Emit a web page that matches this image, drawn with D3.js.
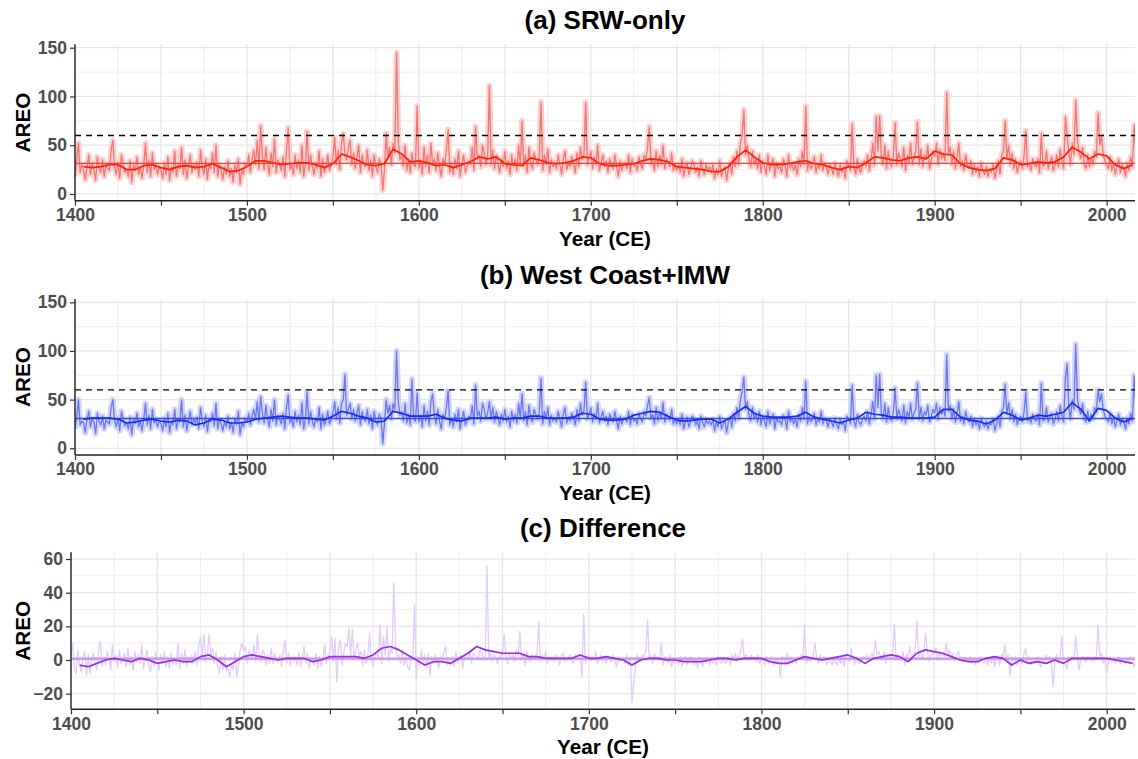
<!DOCTYPE html>
<html>
<head>
<meta charset="utf-8">
<script src="https://cdn.jsdelivr.net/npm/d3@7/dist/d3.min.js"></script>
<style>
  body { margin: 0; background: #fff; }
  text { font-family: "Liberation Sans", Arial, sans-serif; font-weight: bold; }
</style>
</head>
<body>
<div id="chart"></div>
<script>
// annual series start in 1400, smoothed series every 5 years from 1405
var firstYear = 1400;
var smoothFirst = 1405, smoothStep = 5;

var panelTitles = ["(a) SRW-only", "(b) West Coast+IMW", "(c) Difference"];
var xTickYears = [1400, 1450, 1500, 1550, 1600, 1650, 1700, 1750, 1800, 1850, 1900, 1950, 2000];
var areoTicks = [0, 50, 100, 150];
var diffTicks = [-20, 0, 20, 40, 60];
var thresholdLine = 60;
var meanLines = [31.3, 30.6, 0.8];

var srwAnnual = [
  18,35,52,22,30,24,15,28,40,20, 32,25,14,38,27,22,35,18,30,26,
  24,45,55,28,20,33,16,40,30,22, 26,18,34,12,30,24,38,20,28,16,
  30,52,22,35,18,42,25,30,20,28, 24,16,32,20,38,14,28,22,44,18,
  30,26,48,20,35,16,28,40,22,30, 25,33,18,45,28,20,36,15,30,26,
  42,22,50,18,30,24,15,28,20,34, 18,26,12,30,22,36,10,25,20,32,
  28,40,22,35,45,30,55,26,70,38, 25,48,30,20,42,28,56,22,35,30,
  24,38,18,44,68,25,30,20,40,26, 35,22,50,18,30,64,24,40,28,20,
  32,26,44,18,36,22,28,40,24,30, 38,58,30,45,25,52,62,40,35,48,
  55,30,42,26,38,50,22,40,30,28, 45,24,35,18,40,28,22,36,30,4,
  25,62,38,48,30,52,42,145,55,35, 40,28,50,24,36,22,42,30,28,90,
  26,35,20,48,28,40,22,52,30,36, 24,42,28,18,36,30,45,66,22,32,
  20,36,26,44,18,30,40,22,28,34, 30,48,24,69,35,40,28,50,42,30,
  38,111,30,45,26,40,32,22,36,28, 44,26,34,20,40,28,36,24,50,30,
  75,28,40,22,48,32,26,42,36,30, 38,94,24,40,30,46,22,35,28,32,
  26,40,30,20,36,44,25,32,28,38, 30,22,42,28,48,35,40,94,30,36,
  44,26,38,30,50,24,32,40,28,34, 22,36,30,26,40,28,18,34,24,30,
  32,26,40,22,36,28,30,24,38,30, 26,40,34,48,69,30,36,24,44,28,
  40,30,50,26,36,32,28,42,24,30, 24,30,22,36,18,28,32,20,26,34,
  30,22,28,18,34,26,20,30,24,28, 22,30,16,26,20,34,18,24,28,14,
  26,32,20,38,28,44,30,52,60,86, 40,50,35,28,44,30,36,26,40,22,
  34,28,20,40,24,30,36,18,32,26, 28,22,36,30,18,40,26,32,24,30,
  20,36,28,44,30,90,24,34,26,30, 38,22,30,26,40,24,32,28,20,30,
  26,20,32,24,18,30,22,28,16,34, 30,24,72,28,20,36,26,22,30,34,
  28,40,24,36,52,30,80,44,80,38, 30,50,26,44,32,28,40,73,30,42,
  36,28,48,24,40,32,52,30,38,44, 74,30,46,28,40,36,50,26,34,44,
  38,52,30,46,36,42,34,104,40,48, 30,44,26,38,52,28,34,24,40,30,
  26,34,20,30,22,28,18,32,24,20, 28,18,26,22,30,16,24,34,20,40,
  44,75,36,50,30,42,26,36,22,30, 34,26,40,65,28,32,24,36,30,28,
  36,22,62,28,30,44,26,32,38,24, 30,40,28,46,34,26,79,60,44,30,
  52,40,96,55,42,36,48,30,26,40, 28,36,30,44,38,83,50,60,40,34,
  30,26,38,24,32,20,28,36,22,30, 26,18,32,24,38,28,71,40
];

var srwSmooth = [
  28,27,28,30,30,25,25,29,30,27,25,28,29,27,28,31,27,23,24,28,
  34,34,32,30,31,32,32,30,27,31,41,38,34,30,29,31,46,41,33,34,
  32,29,30,27,30,33,38,36,38,31,30,29,37,35,32,31,32,34,38,37,
  31,29,29,30,31,34,36,35,33,28,27,26,25,23,23,28,38,45,38,32,
  30,30,31,33,34,31,30,27,25,28,27,32,38,37,35,34,37,38,36,44,
  41,40,31,27,25,24,26,37,35,30,31,33,32,33,38,48,43,36,41,39,
  30,26,30
];

var wciAnnual = [
  20,32,50,24,28,26,16,30,38,22, 30,27,15,36,28,24,33,20,29,27,
  25,42,50,29,22,31,18,38,30,23, 27,20,32,14,30,25,36,22,28,18,
  30,46,24,34,20,40,26,30,22,28, 25,18,31,22,36,16,28,24,40,20,
  29,27,50,22,34,18,28,38,24,30, 26,32,20,42,28,22,34,17,30,27,
  36,23,46,20,30,25,18,28,22,33, 20,27,16,31,24,38,14,27,22,31,
  27,36,24,33,40,30,48,27,53,36, 26,44,30,22,40,28,50,24,34,30,
  25,36,20,42,55,26,30,22,38,27, 34,24,47,20,30,58,25,38,28,22,
  31,27,42,20,35,24,28,38,25,30, 36,48,30,42,26,46,50,76,34,40,
  46,30,40,28,36,44,24,38,30,28, 40,25,34,20,38,28,24,35,30,5,
  26,50,36,44,30,46,40,100,48,34, 38,28,46,26,35,24,71,30,28,57,
  27,34,22,44,28,38,24,48,56,34, 25,40,28,20,35,30,42,59,24,31,
  22,35,27,40,20,30,38,24,28,33, 30,44,25,65,33,38,28,46,40,30,
  36,48,30,42,27,38,31,24,35,28, 40,27,33,22,38,28,35,26,46,30,
  56,28,38,24,44,32,27,40,35,30, 36,72,25,38,30,42,24,34,28,31,
  27,38,30,22,35,42,26,32,28,36, 30,24,40,28,46,34,38,68,30,35,
  42,27,36,30,46,26,32,38,28,33, 24,35,30,27,38,28,20,33,25,30,
  31,27,38,24,35,28,30,25,36,30, 27,38,33,44,52,30,35,25,42,28,
  38,30,47,27,35,32,29,40,25,30, 25,30,24,35,20,28,32,22,27,33,
  30,24,28,20,33,27,22,30,25,28, 24,30,18,27,22,33,20,25,28,16,
  27,32,22,36,28,42,30,50,58,73, 40,48,34,28,42,30,36,27,38,24,
  33,28,22,38,25,30,35,20,31,27, 28,24,34,30,20,38,27,31,25,30,
  22,35,28,42,30,69,25,33,27,30, 36,24,30,27,38,25,31,28,22,30,
  27,22,31,25,20,30,24,28,18,33, 30,25,65,28,22,35,27,24,30,33,
  28,38,25,35,48,30,75,42,76,36, 30,46,27,42,31,28,38,62,30,40,
  34,28,44,26,38,31,46,30,36,40, 67,30,42,28,38,34,44,27,33,40,
  36,46,30,42,35,40,33,96,38,44, 30,41,27,36,48,28,33,25,38,30,
  27,33,22,30,24,28,20,31,25,22, 28,20,26,24,30,18,25,33,22,38,
  42,66,35,47,30,40,27,35,24,30, 33,27,38,58,28,31,26,35,30,28,
  35,24,67,28,30,42,27,32,36,25, 30,38,28,44,33,27,72,87,42,30,
  50,40,107,52,40,35,46,30,27,38, 28,35,30,42,37,60,48,56,40,33,
  30,27,36,25,31,22,28,35,24,30, 27,20,31,25,36,28,75,40
];

var wciSmooth = [
  30,31,31,31,30,26,27,29,30,28,27,29,28,24,26,30,29,26,26,27,
  30,31,32,33,32,31,31,30,29,33,38,36,33,31,27,28,38,36,33,33,
  33,35,31,29,28,31,31,31,32,30,31,31,33,33,31,31,31,32,36,35,
  30,29,29,30,34,36,38,37,33,29,28,29,30,30,26,30,37,43,36,33,
  32,32,32,33,37,32,30,28,26,29,31,37,35,34,32,32,31,31,31,32,
  40,40,32,29,28,25,29,37,34,29,31,34,33,35,37,47,40,28,41,39,
  31,27,31
];

var diffAnnual = [
  4,10,-5,-8,6,-3,-7,2,5,-9, 3,-8,1,4,-2,-6,7,11,-4,2,
  -3,5,2,-6,9,-1,3,-5,6,-2, 0,4,-4,7,-3,2,-6,5,-1,3,
  -2,9,-5,1,6,-3,-7,2,-4,5, -1,-6,3,-2,5,-4,2,-5,4,-3,
  1,-3,10,-5,4,-2,6,-4,2,-1, 3,-2,5,-3,8,14,2,15,-1,4,
  15,3,7,-2,5,-4,-8,2,-6,3, -7,-5,-10,-2,-6,4,-10,-3,6,10,
  5,8,-2,6,3,1,9,-1,15,2, -1,6,4,-3,3,-2,7,-2,4,0,
  -1,3,-4,5,12,-2,4,-3,2,-1, 2,-3,5,-4,1,8,-2,4,-5,1,
  0,-3,4,-5,2,-4,1,9,-2,3, 5,14,-1,13,-13,7,12,-3,4,10,
  8,19,3,18,1,7,10,2,5,-3, 6,-2,3,16,1,-4,2,4,1,21,
  -2,14,3,20,-1,7,4,46,9,2, 3,-2,6,-3,2,-4,-6,1,0,33,
  -12,2,-3,6,-1,3,-5,4,-9,2, -2,3,-1,-5,2,0,4,8,-3,1,
  -3,2,-4,5,-2,1,3,-5,2,1, 1,5,-2,4,3,2,1,6,4,1,
  3,56,1,4,-1,3,2,-2,2,1, 5,15,2,-2,4,1,3,-1,6,2,
  17,1,3,-3,5,2,-1,3,2,1, 4,23,-1,3,1,5,-2,2,0,2,
  -1,3,2,-3,2,4,-1,1,0,3, 0,-2,3,1,3,2,-10,27,-2,2,
  3,-1,2,0,5,-2,1,3,-1,2, -2,2,1,-1,3,0,-4,2,-1,1,
  1,-2,3,-3,2,-25,-13,-4,3,1, -1,3,2,5,24,1,3,-2,4,1,
  2,0,10,-3,2,1,-2,3,-4,1, -2,1,-3,2,-4,1,2,-3,1,2,
  0,-3,1,-5,2,-1,-4,1,-2,1, -3,1,-2,0,-3,2,-1,-2,1,-2,
  -1,2,-3,3,1,4,-1,3,5,13, 1,3,2,0,3,1,2,-1,3,-2,
  1,-1,-3,2,-2,1,2,-3,1,-2, 0,-10,2,1,-3,4,-1,2,-2,1,
  -2,2,1,3,1,21,-2,2,-1,1, 3,10,1,-2,3,-1,2,1,-3,1,
  -1,-3,2,-2,-3,1,-2,1,-4,2, 1,-1,7,1,-3,2,-1,-2,1,2,
  1,3,-1,2,4,1,12,3,5,2, 1,5,-2,3,2,1,3,21,1,3,
  2,1,5,-3,3,2,8,1,3,5, 23,2,6,1,4,16,7,-1,2,5,
  3,7,1,5,2,4,2,10,3,6, 1,4,-1,3,5,1,2,-1,2,1,
  -1,2,-2,1,-3,1,-2,2,-1,-2, 1,-3,1,-2,2,-4,1,2,-3,3,
  2,9,1,3,-9,2,-1,2,-3,1, -1,-2,3,7,-1,2,-3,1,-2,1,
  2,-3,-4,1,-2,3,-1,2,-4,-16, 1,3,-2,2,14,-1,-3,-5,2,1,
  2,0,14,3,-6,1,2,0,-1,2, 0,1,-1,2,1,21,2,4,-2,1,
  -8,-1,2,-1,1,-2,0,1,-2,0, -1,-2,1,-1,2,0,-4,0
];

var diffSmooth = [
  -3,-4,-2,0,1,0,-1,1,0,-2,-1,0,-1,-1,2,3,0,-4,-1,2,
  3,2,1,0,1,1,1,-1,0,2,2,2,2,1,3,7,8,6,3,0,
  -3,-1,-1,-2,1,4,8,6,5,4,4,4,2,2,1,1,1,1,3,1,
  1,2,1,0,-3,0,1,1,0,0,-1,-1,-1,0,1,1,0,1,1,1,
  -1,-2,-2,0,2,1,0,1,2,3,1,-2,1,2,3,2,-1,4,6,5,
  4,2,0,-1,-1,1,2,1,-3,0,-2,-1,-2,0,-2,1,1,1,1,1,
  0,-1,-2
];

var svg = d3.select("#chart")
  .append("svg")
  .attr("width", 1138)
  .attr("height", 759)
  .style("background-color", "#fff");

function drawPanel(p) {
  var xScale = d3.scaleLinear().domain([firstYear, p.xMax]).range([p.left, p.right]);
  var yScale = d3.scaleLinear().domain(p.yDomain).range([p.bottom, p.top]);

  var g = svg.append("g").attr("class", "panel");

  svg.append("clipPath")
    .attr("id", p.id)
    .append("rect")
    .attr("x", p.left)
    .attr("y", p.top)
    .attr("width", p.right - p.left)
    .attr("height", p.bottom - p.top);

  // grid: every 25 years, minor y halfway between majors
  var gridYears = d3.range(firstYear, 2001, 25);
  g.selectAll(".vgrid")
    .data(gridYears)
    .enter().append("line")
    .attr("x1", function(d) { return xScale(d); })
    .attr("x2", function(d) { return xScale(d); })
    .attr("y1", p.top)
    .attr("y2", p.bottom)
    .attr("stroke", function(d) { return d % 50 === 0 ? "#e6e6e6" : "#efefef"; })
    .attr("stroke-width", function(d) { return d % 50 === 0 ? 1.3 : 1; });

  var minorY = p.ticks.slice(1).map(function(d, i) { return (d + p.ticks[i]) / 2; });
  g.selectAll(".hminor")
    .data(minorY)
    .enter().append("line")
    .attr("x1", p.left).attr("x2", p.right)
    .attr("y1", function(d) { return yScale(d); })
    .attr("y2", function(d) { return yScale(d); })
    .attr("stroke", "#efefef")
    .attr("stroke-width", 1);

  g.selectAll(".hgrid")
    .data(p.ticks)
    .enter().append("line")
    .attr("x1", p.left).attr("x2", p.right)
    .attr("y1", function(d) { return yScale(d); })
    .attr("y2", function(d) { return yScale(d); })
    .attr("stroke", "#e6e6e6")
    .attr("stroke-width", 1.3);

  var plot = g.append("g").attr("clip-path", "url(#" + p.id + ")");

  var annualLine = d3.line()
    .x(function(d, i) { return xScale(firstYear + i); })
    .y(function(d) { return yScale(d); });

  var smoothLine = d3.line()
    .x(function(d, i) { return xScale(smoothFirst + i * smoothStep); })
    .y(function(d) { return yScale(d); });

  if (p.bandColor) {
    plot.append("path")
      .datum(p.annual)
      .attr("d", annualLine)
      .attr("fill", "none")
      .attr("stroke", p.bandColor)
      .attr("stroke-width", 6)
      .attr("stroke-linejoin", "round");
  }

  plot.append("path")
    .datum(p.annual)
    .attr("d", annualLine)
    .attr("fill", "none")
    .attr("stroke", p.annualColor)
    .attr("stroke-width", 1.3)
    .attr("stroke-linejoin", "round");

  if (p.threshold !== undefined) {
    plot.append("line")
      .attr("x1", p.left).attr("x2", p.right)
      .attr("y1", yScale(p.threshold))
      .attr("y2", yScale(p.threshold))
      .attr("stroke", "#000")
      .attr("stroke-width", 1.4)
      .style("stroke-dasharray", "6,5");
  }

  plot.append("line")
    .attr("x1", p.left).attr("x2", p.right)
    .attr("y1", yScale(p.mean))
    .attr("y2", yScale(p.mean))
    .attr("stroke", p.meanColor)
    .attr("stroke-width", p.meanWidth);

  plot.append("path")
    .datum(p.smooth)
    .attr("d", smoothLine)
    .attr("fill", "none")
    .attr("stroke", p.smoothColor)
    .attr("stroke-width", 1.7)
    .attr("stroke-linejoin", "round");

  // axes
  var xAxis = d3.axisBottom(xScale)
    .tickValues(xTickYears)
    .tickSize(5)
    .tickFormat(function(d) { return d % 100 === 0 ? d : ""; });
  var xg = g.append("g")
    .attr("class", "axis x-axis")
    .attr("transform", "translate(0," + p.bottom + ")")
    .call(xAxis);

  var yAxis = d3.axisLeft(yScale).tickValues(p.ticks).tickSize(5);
  var yg = g.append("g")
    .attr("class", "axis y-axis")
    .attr("transform", "translate(" + p.left + ",0)")
    .call(yAxis);

  [xg, yg].forEach(function(ax) {
    ax.select(".domain").attr("stroke", "#222").attr("stroke-width", 1.4);
    ax.selectAll(".tick line").attr("stroke", "#333").attr("stroke-width", 1.2);
    ax.selectAll(".tick text")
      .attr("fill", "#4d4d4d")
      .style("font-size", "17.5px")
      .style("font-family", "'Liberation Sans', Arial, sans-serif")
      .style("font-weight", "bold");
  });
  xg.select(".domain").attr("d", "M" + p.left + ",0H" + p.right);
  yg.select(".domain").attr("d", "M0," + p.top + "V" + p.bottom);
  xg.selectAll(".tick text").attr("y", 8).attr("dy", "0.71em");
  yg.selectAll(".tick text").attr("x", -8);

  var mid = (p.left + p.right) / 2;
  g.append("text")
    .text(p.title)
    .attr("x", mid)
    .attr("y", p.top - 15)
    .attr("text-anchor", "middle")
    .style("font-size", "26px")
    .attr("fill", "#000");

  g.append("text")
    .text("Year (CE)")
    .attr("x", mid)
    .attr("y", p.bottom + 45)
    .attr("text-anchor", "middle")
    .style("font-size", "20.7px")
    .attr("fill", "#000");

  g.append("text")
    .text("AREO")
    .attr("transform", "translate(29.5," + ((p.top + p.bottom) / 2) + ") rotate(-90)")
    .attr("text-anchor", "middle")
    .style("font-size", "20.7px")
    .attr("fill", "#000");
}

drawPanel({
  id: "clipA", title: panelTitles[0],
  left: 75, right: 1135, top: 44.3, bottom: 200.7,
  xMax: 2016.5, yDomain: [-6.9, 153.5], ticks: areoTicks,
  annual: srwAnnual, smooth: srwSmooth,
  bandColor: "#fcd3d3", annualColor: "#f47575", smoothColor: "#ff2000",
  mean: meanLines[0], meanColor: "#f24040", meanWidth: 1.3,
  threshold: thresholdLine
});

drawPanel({
  id: "clipB", title: panelTitles[1],
  left: 75, right: 1135, top: 299, bottom: 455,
  xMax: 2016.5, yDomain: [-6.9, 153.4], ticks: areoTicks,
  annual: wciAnnual, smooth: wciSmooth,
  bandColor: "#d3d6fb", annualColor: "#6d76f0", smoothColor: "#1230e6",
  mean: meanLines[1], meanColor: "#3a4ae2", meanWidth: 1.3,
  threshold: thresholdLine
});

drawPanel({
  id: "clipC", title: panelTitles[2],
  left: 71, right: 1135, top: 552.3, bottom: 709.3,
  xMax: 2016.4, yDomain: [-29.3, 64], ticks: diffTicks,
  annual: diffAnnual, smooth: diffSmooth,
  bandColor: null, annualColor: "#e3ccf7", smoothColor: "#9630dc",
  mean: meanLines[2], meanColor: "#c894f0", meanWidth: 2.4
});
</script>
</body>
</html>
